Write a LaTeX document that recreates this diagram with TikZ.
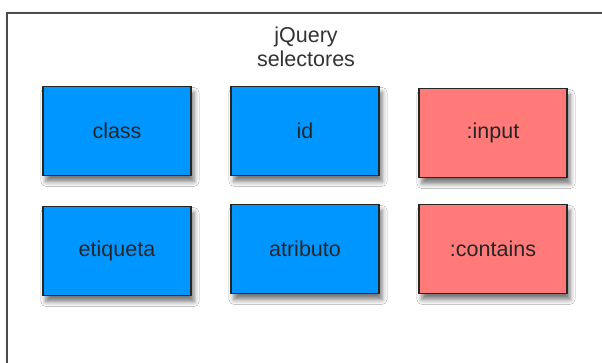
\documentclass[tikz,border=0pt]{standalone}
\usepackage{fontspec}
\setmainfont{Liberation Sans}
\usetikzlibrary{
matrix,
shadows.blur
}
\definecolor{selblue}{RGB}{0,150,255}
\definecolor{selred}{RGB}{255,122,120}
\tikzset{
  selbox/.style={draw=black!85, line width=1.4pt, minimum width=148pt, minimum height=89pt,
    inner sep=0pt, text=black!85, font=\fontsize{21.5}{25}\selectfont,
    blur shadow={shadow xshift=3pt, shadow yshift=-6pt, shadow blur radius=5pt, shadow opacity=55}},
  bluebox/.style={fill=selblue},
  redbox/.style={fill=selred},
  framebox/.style={draw=black!70, line width=2pt, fill=white,
    blur shadow={shadow xshift=0pt, shadow yshift=0pt, shadow blur radius=2pt, shadow opacity=35}},
  titletext/.style={align=center, text=black!80, font=\fontsize{21.5}{24}\selectfont}
}
\begin{document}
\begin{tikzpicture}[x=1pt,y=1pt]
  \useasboundingbox (0,0) rectangle (602,-363);
  \path[framebox] (7,-13) rectangle (660,-420);
  \node[titletext] (title) at (306,-47) {jQuery\\selectores};
  \matrix[matrix of nodes, nodes={selbox}, column sep={188pt,between origins},
    row sep={118pt,between origins}] (s) at (305,-191)
  {
  |[bluebox]| class & |[bluebox]| id & |[redbox]| :input\\
  |[bluebox]| etiqueta & |[bluebox]| atributo & |[redbox]| :contains\\
  };
\end{tikzpicture}
\end{document}
